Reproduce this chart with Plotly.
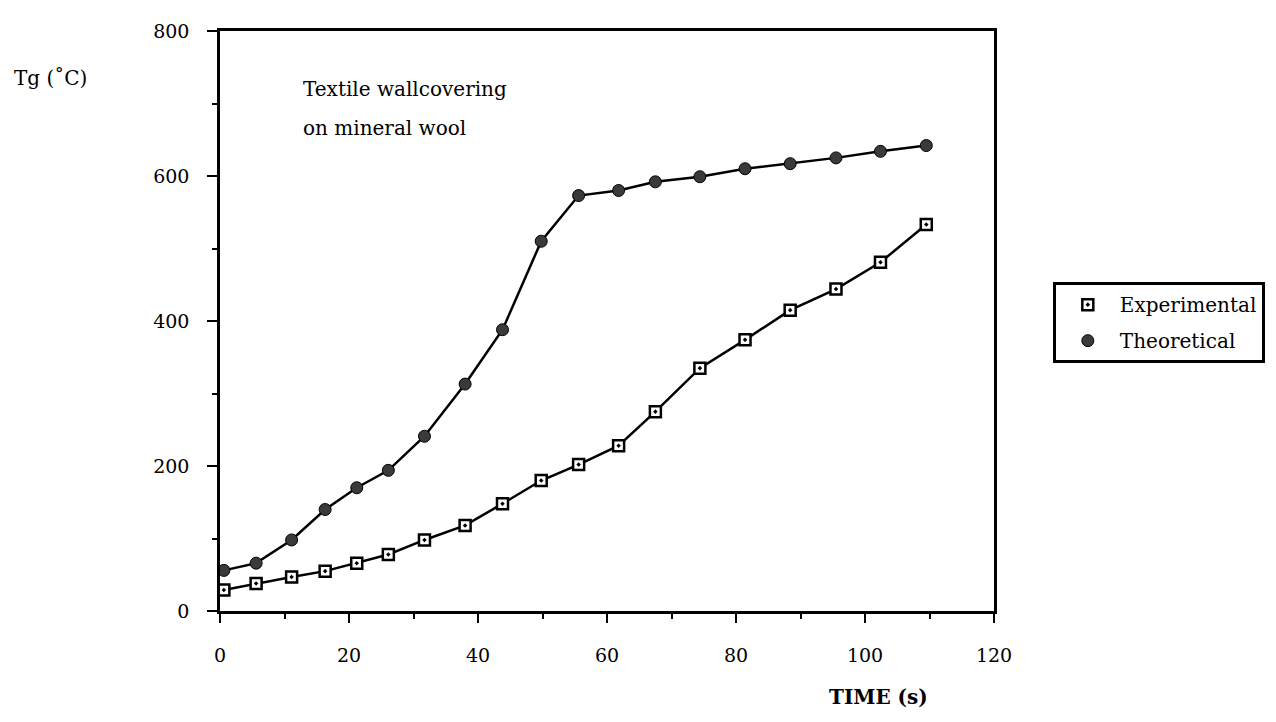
import plotly.graph_objects as go

time_s = [0.6, 5.6, 11.1, 16.3, 21.2, 26.1, 31.7, 38.0, 43.8, 49.8,
          55.6, 61.8, 67.5, 74.4, 81.4, 88.4, 95.5, 102.4, 109.5]
experimental = [29, 38, 47, 55, 66, 78, 98, 118, 148, 180,
                202, 228, 275, 335, 374, 415, 444, 481, 533]
theoretical = [56, 66, 98, 140, 170, 194, 241, 313, 388, 510,
               573, 580, 592, 599, 610, 617, 625, 634, 642]

x_ticks = [0, 20, 40, 60, 80, 100, 120]
y_ticks = [0, 200, 400, 600, 800]

SERIF = "DejaVu Serif, serif"

fig = go.Figure()
# connecting lines (no legend entry)
fig.add_trace(go.Scatter(x=time_s, y=experimental, mode="lines",
                         showlegend=False, hoverinfo="skip",
                         line=dict(color="black", width=2.5)))
fig.add_trace(go.Scatter(x=time_s, y=theoretical, mode="lines",
                         showlegend=False, hoverinfo="skip",
                         line=dict(color="black", width=2.5)))
# markers (legend entries)
fig.add_trace(go.Scatter(
    x=time_s, y=experimental, mode="markers", name="Experimental",
    legendgroup="e",
    marker=dict(symbol="square-dot", size=11, color="white",
                line=dict(color="black", width=2.5)),
))
fig.add_trace(go.Scatter(
    x=time_s, y=theoretical, mode="markers", name="Theoretical",
    legendgroup="t",
    marker=dict(symbol="circle", size=12, color="#3a3a3a",
                line=dict(color="black", width=1)),
))

fig.update_layout(
    width=1276, height=722,
    margin=dict(l=212, r=290, t=21, b=119),
    paper_bgcolor="white", plot_bgcolor="white",
    font=dict(family=SERIF, size=19, color="black"),
    showlegend=True,
    legend=dict(
        x=1.076, y=0.567, xanchor="left", yanchor="top",
        bordercolor="black", borderwidth=3, bgcolor="white",
        font=dict(family=SERIF, size=20, color="black"),
        traceorder="grouped", tracegroupgap=7,
        itemwidth=54,
    ),
    xaxis=dict(
        range=[0, 120], tickvals=x_ticks, ticktext=[str(v) for v in x_ticks],
        showgrid=False, zeroline=False,
        showline=True, linecolor="black", linewidth=2.5, mirror=True,
        ticks="outside", ticklen=9, tickwidth=2, tickcolor="black",
        ticklabelstandoff=16,
        tickfont=dict(family=SERIF, size=19),
        minor=dict(dtick=10, ticks="outside", ticklen=5, tickwidth=1.5,
                   tickcolor="black", showgrid=False),
    ),
    yaxis=dict(
        range=[0, 800], tickvals=y_ticks, ticktext=[str(v) for v in y_ticks],
        showgrid=False, zeroline=False,
        showline=True, linecolor="black", linewidth=2.5, mirror=True,
        ticks="outside", ticklen=10, tickwidth=2, tickcolor="black",
        ticklabelstandoff=14,
        tickfont=dict(family=SERIF, size=19),
        minor=dict(dtick=100, ticks="outside", ticklen=5, tickwidth=1.5,
                   tickcolor="black", showgrid=False),
    ),
    annotations=[
        dict(text="Textile wallcovering", xref="paper", yref="paper",
             x=(293 - 212) / 774, y=(603 - 79) / 582,
             xanchor="left", yanchor="middle", showarrow=False,
             font=dict(family=SERIF, size=20)),
        dict(text="on mineral wool", xref="paper", yref="paper",
             x=(293 - 212) / 774, y=(603 - 118) / 582,
             xanchor="left", yanchor="middle", showarrow=False,
             font=dict(family=SERIF, size=20)),
        dict(text="Tg (˚C)", xref="paper", yref="paper",
             x=(4 - 212) / 774, y=(603 - 68) / 582,
             xanchor="left", yanchor="middle", showarrow=False,
             font=dict(family=SERIF, size=20)),
        dict(text="<b>TIME (s)</b>", xref="paper", yref="paper",
             x=(870 - 212) / 774, y=(603 - 689) / 582,
             xanchor="center", yanchor="middle", showarrow=False,
             font=dict(family=SERIF, size=20)),
    ],
)

fig.write_html("out.html")
